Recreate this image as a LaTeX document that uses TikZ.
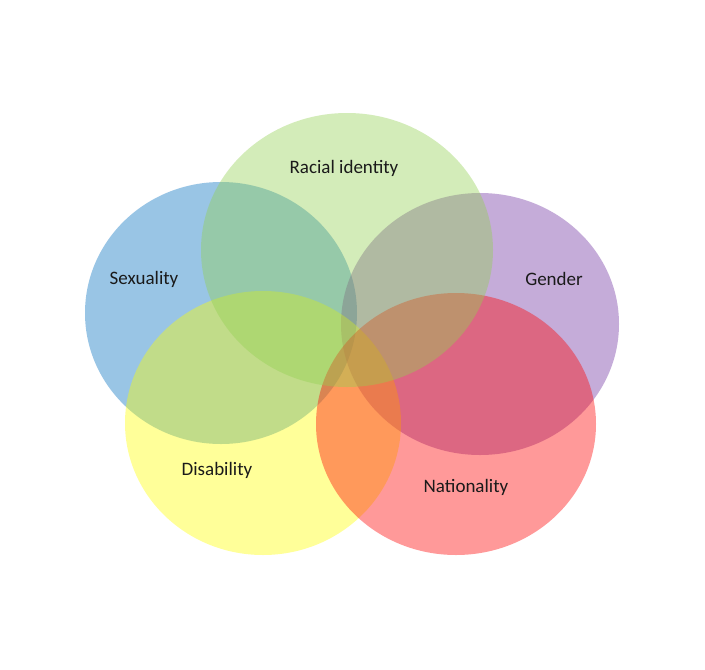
\documentclass[tikz,border=0pt]{standalone}
\usepackage{fontspec}
\setmainfont{Carlito}
\definecolor{cblue}{HTML}{0070C0}
\definecolor{cgreen}{HTML}{92D050}
\definecolor{cpurple}{HTML}{7030A0}
\definecolor{cyellow}{HTML}{FFFF00}
\definecolor{cred}{HTML}{FF0000}
\definecolor{txt}{HTML}{1A1A1A}
\tikzset{
  blob/.style={fill opacity=0.4, draw=none},
  lbl/.style={text=txt, font=\fontsize{19}{23}\selectfont, inner sep=0pt}
}
\begin{document}
\begin{tikzpicture}[x=1pt,y=-1pt]
\useasboundingbox (0,0) rectangle (705,670);
\fill[white] (0,0) rectangle (705,670);
\fill[blob, cblue]   (221,313) ellipse [x radius=136, y radius=131];
\fill[blob, cpurple] (480,324) ellipse [x radius=139, y radius=131];
\fill[blob, cyellow] (263,423) ellipse [x radius=138, y radius=132];
\fill[blob, cred]    (456,424) ellipse [x radius=140, y radius=131];
\fill[blob, cgreen]  (347,250) ellipse [x radius=146, y radius=137];
\node[lbl] (racial) at (344,168) {Racial identity};
\node[lbl] (sex) at (144,279) {Sexuality};
\node[lbl] (gender) at (554,279) {Gender};
\node[lbl] (dis) at (217,470) {Disability};
\node[lbl] (nat) at (466,487) {Nationality};
\end{tikzpicture}
\end{document}
